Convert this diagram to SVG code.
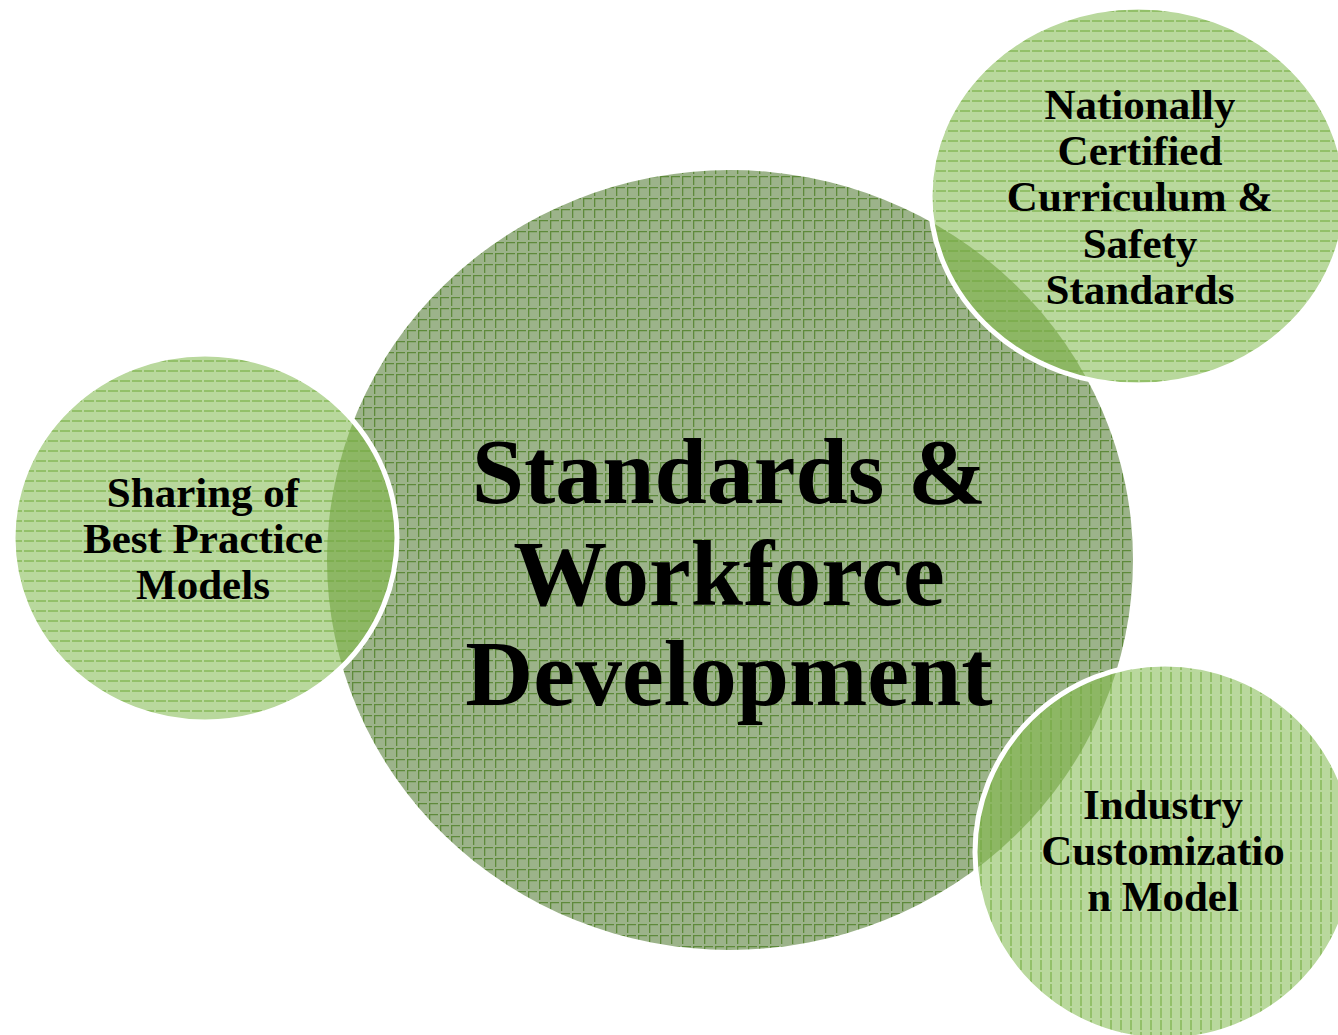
<svg xmlns="http://www.w3.org/2000/svg" width="1338" height="1035" viewBox="0 0 1338 1035">
<style>
.t{font-family:"Liberation Serif","Times New Roman",serif;font-weight:bold;fill:#000;text-anchor:middle}
.big{font-size:94px}
.sm{font-size:43px}
</style>
<defs>
<pattern id="grid" width="11" height="11" patternUnits="userSpaceOnUse">
<rect width="11" height="11" fill="#9cb38a"/>
<path d="M0 0.5H11M0.5 0V11" stroke="#5e8a3a" stroke-width="1.6" stroke-dasharray="9 2"/>
</pattern>
<pattern id="hl" width="12" height="10" patternUnits="userSpaceOnUse">
<rect width="12" height="10" fill="#b9d89d"/>
<path d="M0 1H12" stroke="#86b857" stroke-width="1.5" stroke-dasharray="10 2"/>
</pattern>
<pattern id="vl" width="10" height="12" patternUnits="userSpaceOnUse">
<rect width="10" height="12" fill="#b9d89d"/>
<path d="M1 0V12" stroke="#86b857" stroke-width="1.5" stroke-dasharray="10 2"/>
</pattern>
<clipPath id="bigc"><ellipse cx="730" cy="560" rx="403" ry="390"/></clipPath>
</defs>
<g id="node-main">
<ellipse cx="730" cy="560" rx="403" ry="390" fill="url(#grid)"/>
</g>
<g id="node-left">
<ellipse cx="205" cy="538" rx="192" ry="184" fill="url(#hl)"/>
<ellipse cx="205" cy="538" rx="192" ry="184" fill="#6fa23d" opacity="0.6" clip-path="url(#bigc)"/>
<ellipse cx="205" cy="538" rx="192" ry="184" fill="none" stroke="#fff" stroke-width="5"/>
<text class="t sm" x="203" y="507">Sharing of</text>
<text class="t sm" x="203" y="553">Best Practice</text>
<text class="t sm" x="203" y="599">Models</text>
</g>
<g id="node-top-right">
<ellipse cx="1138" cy="196" rx="208" ry="189" fill="url(#hl)"/>
<ellipse cx="1138" cy="196" rx="208" ry="189" fill="#6fa23d" opacity="0.6" clip-path="url(#bigc)"/>
<ellipse cx="1138" cy="196" rx="208" ry="189" fill="none" stroke="#fff" stroke-width="5"/>
<text class="t sm" x="1140" y="119">Nationally</text>
<text class="t sm" x="1140" y="165">Certified</text>
<text class="t sm" x="1140" y="211">Curriculum &amp;</text>
<text class="t sm" x="1140" y="258">Safety</text>
<text class="t sm" x="1140" y="304">Standards</text>
</g>
<g id="node-bottom-right">
<ellipse cx="1165" cy="852" rx="190" ry="188" fill="url(#vl)"/>
<ellipse cx="1165" cy="852" rx="190" ry="188" fill="#6fa23d" opacity="0.6" clip-path="url(#bigc)"/>
<ellipse cx="1165" cy="852" rx="190" ry="188" fill="none" stroke="#fff" stroke-width="5"/>
<text class="t sm" x="1163" y="819">Industry</text>
<text class="t sm" x="1163" y="865">Customizatio</text>
<text class="t sm" x="1163" y="911">n Model</text>
</g>
<g id="main-label">
<text class="t big" x="729" y="503">Standards &amp;</text>
<text class="t big" x="729" y="605">Workforce</text>
<text class="t big" x="729" y="705">Development</text>
</g>
<g id="connectors"/>
</svg>
